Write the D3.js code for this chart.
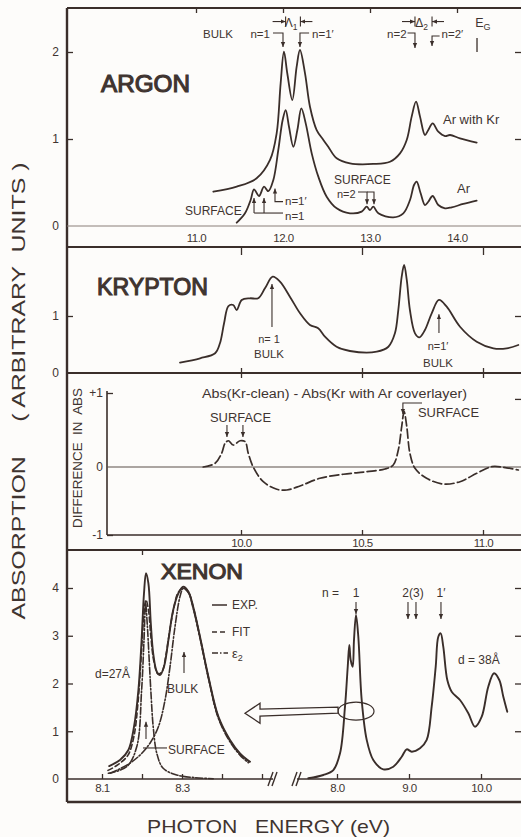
<!DOCTYPE html>
<html><head><meta charset="utf-8">
<script src="https://cdn.jsdelivr.net/npm/d3@7"></script>
<style>
html,body{margin:0;padding:0;background:#fdfcfa;}
svg{display:block;}
text{font-family:"Liberation Sans",Arial,Helvetica,sans-serif;fill:#3f3430;}
</style></head><body>
<svg id="c" width="521" height="837"></svg>
<script>
// ---------- DATA ----------
const argonTicks = [11, 12, 13, 14];
const argonYTicks = [0, 1, 2];
const argonKrEnergy = [11.199, 11.468, 11.697, 11.851, 11.927, 11.973, 12.011, 12.05, 12.107, 12.157, 12.195, 12.253, 12.31, 12.387, 12.464, 12.52, 12.617, 12.77, 13.038, 13.23, 13.345, 13.422, 13.479, 13.529, 13.575, 13.632, 13.67, 13.72, 13.785, 13.862, 13.92, 14.034, 14.226];
const argonKrAbs = [0.394, 0.452, 0.548, 0.759, 1.065, 1.640, 2.004, 1.75, 1.448, 1.831, 2.023, 1.755, 1.371, 1.103, 0.989, 0.911, 0.778, 0.72, 0.713, 0.739, 0.835, 0.989, 1.257, 1.429, 1.257, 1.046, 1.103, 1.18, 1.084, 1.034, 1.046, 1.008, 0.958];
const argonEnergy = [11.468, 11.563, 11.628, 11.667, 11.724, 11.782, 11.831, 11.889, 11.946, 11.996, 12.031, 12.069, 12.119, 12.165, 12.211, 12.261, 12.33, 12.406, 12.502, 12.617, 12.77, 12.904, 12.962, 13.0, 13.038, 13.096, 13.268, 13.383, 13.46, 13.506, 13.536, 13.582, 13.632, 13.67, 13.72, 13.785, 13.862, 13.939, 14.072, 14.226];
const argonAbs = [0.038, 0.146, 0.299, 0.422, 0.345, 0.452, 0.40, 0.529, 0.874, 1.218, 1.333, 1.141, 0.911, 1.103, 1.352, 1.18, 0.835, 0.567, 0.337, 0.203, 0.146, 0.165, 0.222, 0.184, 0.222, 0.146, 0.1, 0.146, 0.299, 0.471, 0.509, 0.376, 0.241, 0.279, 0.345, 0.241, 0.203, 0.215, 0.253, 0.291];

const kryptonTicks = [10.0, 10.5, 11.0];
const kryptonYTicks = [0, 1];
const kryptonEnergy = [9.748, 9.831, 9.893, 9.913, 9.930, 9.948, 9.968, 9.982, 10.003, 10.037, 10.071, 10.099, 10.131, 10.161, 10.202, 10.244, 10.285, 10.319, 10.347, 10.395, 10.450, 10.561, 10.609, 10.636, 10.650, 10.664, 10.674, 10.685, 10.698, 10.719, 10.737, 10.760, 10.788, 10.818, 10.850, 10.905, 10.974, 11.043, 11.098, 11.146];
const kryptonAbs = [0.181, 0.258, 0.346, 0.521, 0.872, 1.175, 1.193, 1.105, 1.281, 1.311, 1.311, 1.486, 1.689, 1.602, 1.339, 1.047, 0.842, 0.784, 0.637, 0.461, 0.386, 0.374, 0.461, 0.696, 1.105, 1.689, 1.895, 1.632, 1.105, 0.696, 0.626, 0.754, 1.047, 1.281, 1.163, 0.812, 0.549, 0.433, 0.433, 0.491];

const diffYTicks = [-1, 0, 1];
const diffYLabels = ["-1", "0", "+1"];
const diffEnergy = [9.844, 9.893, 9.920, 9.934, 9.948, 9.968, 9.996, 10.017, 10.030, 10.051, 10.092, 10.148, 10.189, 10.244, 10.326, 10.423, 10.519, 10.595, 10.629, 10.650, 10.664, 10.674, 10.685, 10.698, 10.719, 10.767, 10.836, 10.905, 10.974, 11.036, 11.084, 11.146];
const diffValue = [0.0, 0.05, 0.185, 0.32, 0.355, 0.297, 0.355, 0.342, 0.185, -0.004, -0.216, -0.328, -0.338, -0.279, -0.166, -0.107, -0.069, -0.029, 0.027, 0.23, 0.545, 0.747, 0.545, 0.185, -0.019, -0.166, -0.25, -0.216, -0.093, 0.004, -0.004, -0.044];

const xenonYTicks = [0, 1, 2, 3, 4];
const xenonLeftTicks = [8.1, 8.2, 8.3, 8.4, 8.5];
const xenonLeftLabels = [8.1, 8.3];
const xenonRightTicks = [8.0, 9.0, 10.0];
const xeExpEnergy = [8.118, 8.145, 8.166, 8.180, 8.191, 8.199, 8.205, 8.21, 8.216, 8.222, 8.228, 8.237, 8.245, 8.255, 8.266, 8.278, 8.291, 8.303, 8.316, 8.328, 8.345, 8.366, 8.391, 8.42, 8.445, 8.47];
const xeExpAbs = [0.272, 0.398, 0.607, 1.095, 1.864, 2.911, 3.889, 4.308, 4.098, 3.26, 2.632, 2.247, 2.178, 2.352, 2.911, 3.539, 3.889, 4.027, 3.923, 3.608, 2.98, 2.142, 1.305, 0.817, 0.538, 0.362];
const xeFitEnergy = [8.115, 8.14, 8.165, 8.18, 8.19, 8.199, 8.205, 8.21, 8.216, 8.222, 8.23, 8.24, 8.25, 8.26, 8.27, 8.28, 8.29, 8.303, 8.316, 8.328, 8.345, 8.366, 8.391, 8.42, 8.445, 8.47];
const xeFitAbs = [0.18, 0.3, 0.5, 0.9, 1.6, 2.7, 3.5, 3.75, 3.55, 3.0, 2.45, 2.2, 2.25, 2.6, 3.15, 3.6, 3.9, 4.0, 3.92, 3.6, 2.97, 2.13, 1.29, 0.8, 0.52, 0.35];
const xeSurfEnergy = [8.116, 8.162, 8.187, 8.199, 8.205, 8.209, 8.213, 8.218, 8.2225, 8.228, 8.237, 8.253, 8.287, 8.33, 8.378];
const xeSurfEps = [0.12, 0.26, 0.68, 1.86, 2.91, 3.68, 3.26, 2.49, 1.79, 1.095, 0.538, 0.224, 0.084, 0.03, 0.006];
const xeBulkEnergy = [8.12, 8.162, 8.195, 8.22, 8.241, 8.2575, 8.27, 8.2825, 8.295, 8.303, 8.316, 8.328, 8.345, 8.366, 8.391, 8.42, 8.445, 8.466];
const xeBulkEps = [0.12, 0.29, 0.5, 0.75, 1.095, 1.65, 2.35, 3.19, 3.82, 3.99, 3.9, 3.57, 2.95, 2.11, 1.27, 0.78, 0.5, 0.34];
const xeThickEnergy = [7.601, 7.81, 7.949, 8.042, 8.111, 8.149, 8.171, 8.19, 8.218, 8.236, 8.264, 8.296, 8.343, 8.413, 8.504, 8.643, 8.782, 8.899, 8.968, 9.038, 9.153, 9.246, 9.315, 9.371, 9.407, 9.44, 9.476, 9.532, 9.593, 9.708, 9.824, 9.917, 10.01, 10.101, 10.181, 10.254, 10.31, 10.365];
const xeThickAbs = [0.015, 0.084, 0.188, 0.538, 1.514, 2.352, 2.806, 2.492, 2.352, 2.911, 3.435, 2.98, 1.654, 0.817, 0.398, 0.203, 0.258, 0.467, 0.622, 0.572, 0.643, 0.817, 1.514, 2.352, 2.98, 3.051, 2.771, 2.073, 1.828, 1.654, 1.376, 1.095, 1.305, 1.933, 2.214, 2.073, 1.724, 1.409];

// ---------- SETUP ----------
const ink = "#3a2e2a";
const svg = d3.select("#c");
svg.append("rect").attr("width",521).attr("height",837).attr("fill","#fdfcfa");
const defs = svg.append("defs");
defs.append("marker").attr("id","ah").attr("viewBox","0 0 6 6").attr("refX",6).attr("refY",3)
  .attr("markerWidth",5).attr("markerHeight",6).attr("markerUnits","userSpaceOnUse").attr("orient","auto")
  .append("path").attr("d","M0,0.4 L6,3 L0,5.6 Z").attr("fill",ink);

const curve = d3.curveCatmullRom.alpha(0.5);
function zip(a,b){return a.map((v,i)=>[v,b[i]]);}
function plot(xs, ys, E, V, opt={}) {
  const line = d3.line().x(d=>xs(d[0])).y(d=>ys(d[1])).curve(curve);
  svg.append("path").attr("d", line(zip(E,V))).attr("fill","none").attr("stroke",ink)
    .attr("stroke-width", opt.w||1.8).attr("stroke-dasharray", opt.dash||null)
    .attr("stroke-linejoin","round").attr("stroke-linecap","round");
}
function hline(x1,x2,y,w=2,c=ink){svg.append("line").attr("x1",x1).attr("x2",x2).attr("y1",y).attr("y2",y).attr("stroke",c).attr("stroke-width",w);}
function vline(x,y1,y2,w=2,c=ink){svg.append("line").attr("x1",x).attr("x2",x).attr("y1",y1).attr("y2",y2).attr("stroke",c).attr("stroke-width",w);}
function txt(x,y,s,o={}){
  const t=svg.append("text").attr("x",x).attr("y",y).attr("font-size",o.size||11.5)
    .attr("text-anchor",o.anchor||"start").attr("font-weight",o.weight||"normal");
  t.style("white-space","pre").text(s);
  if(o.len){t.attr("textLength",o.len).attr("lengthAdjust","spacingAndGlyphs");}
  if(o.rot){t.attr("transform",`rotate(${o.rot},${x},${y})`);}
  if(o.heavy){t.attr("stroke","#3f3430").attr("stroke-width",o.heavy);}
  return t;
}
function arrow(pts, w=1.1){
  svg.append("path").attr("d", d3.line()(pts)).attr("fill","none").attr("stroke",ink)
    .attr("stroke-width",w).attr("marker-end","url(#ah)");
}
function plain(pts, w=1.1){
  svg.append("path").attr("d", d3.line()(pts)).attr("fill","none").attr("stroke",ink).attr("stroke-width",w);
}
function styleAxis(g, size=12){
  g.select(".domain").remove();
  g.selectAll("line").attr("stroke",ink).attr("stroke-width",1.3);
  g.selectAll("text").attr("font-size",size).attr("fill","#3f3430")
    .attr("font-family","'Liberation Sans',Arial,sans-serif");
}

// ---------- SCALES ----------
const xAr = d3.scaleLinear().domain([11,14]).range([196,457]);
const yAr = d3.scaleLinear().domain([0,2]).range([226,52]);
const xKr = d3.scaleLinear().domain([10,11]).range([241,483]);
const yKr = d3.scaleLinear().domain([0,1]).range([373,316]);
const yDf = d3.scaleLinear().domain([-1,0,1]).range([535,467,393]);
const xXeL = d3.scaleLinear().domain([8.1,8.3]).range([102,182]);
const xXeR = d3.scaleLinear().domain([8,10]).range([337,481]);
const yXe = d3.scaleLinear().domain([0,4]).range([779,588]);

// ---------- FRAME ----------
const L=67, R=524;
vline(L, 8, 802, 2.4);
hline(L, R, 8, 2.2);
hline(L, R, 802, 2.4);
hline(L, R, 247, 2.2);
hline(L, R, yKr(0), 1.8);
hline(L, R, 550, 2.2);
hline(L, R, yAr(0), 1, "#8a7e78");

// ---------- ARGON ----------
let g = svg.append("g").attr("transform",`translate(0,${yAr(0)})`)
  .call(d3.axisBottom(xAr).tickValues(argonTicks).tickSize(0).tickPadding(8).tickFormat(d3.format(".1f")));
styleAxis(g, 11.5); g.selectAll("text").attr("letter-spacing","-0.5");
g = svg.append("g").attr("transform",`translate(0,8)`)
  .call(d3.axisBottom(xAr).tickValues(argonTicks).tickSize(5).tickFormat(""));
styleAxis(g);
g = svg.append("g").attr("transform",`translate(${L},0)`)
  .call(d3.axisLeft(yAr).tickValues(argonYTicks).tickSize(-6).tickPadding(8).tickFormat(d3.format("d")));
styleAxis(g); g.selectAll(".tick").filter(d=>d===0).select("line").remove();
g = svg.append("g").attr("transform",`translate(521,0)`)
  .call(d3.axisRight(yAr).tickValues([1,2]).tickSize(-6).tickFormat(""));
styleAxis(g);

plot(xAr, yAr, argonKrEnergy, argonKrAbs);
plot(xAr, yAr, argonEnergy, argonAbs);

txt(101, 92, "ARGON", {size:23, len:89, heavy:1.1});
txt(203, 38, "BULK");
txt(xAr(11.885)-3, 38, "n=1", {anchor:"end"});
arrow([[xAr(11.885),33],[xAr(12.0),33],[xAr(12.0),47]]);
arrow([[xAr(12.30),33],[xAr(12.195),33],[xAr(12.195),47]]);
txt(xAr(12.30)+3, 38, "n=1′");
// Λ1 / Δ2 brackets
function spacing(e1,e2,label,sub){
  const y=yAr(2.35), a=xAr(e1), b=xAr(e2);
  vline(a,y-5,y+5,1.1); vline(b,y-5,y+5,1.1);
  arrow([[a-13,y],[a,y]]); arrow([[b+12,y],[b,y]]);
  const t=txt((a+b)/2-2, y+5, label, {anchor:"middle", size:12});
  t.append("tspan").attr("font-size",8.5).attr("dy",3).text(sub);
}
spacing(12.03, 12.2, "Λ", "1");
spacing(13.517, 13.713, "Δ", "2");
txt(xAr(13.42), 38, "n=2", {anchor:"end"});
arrow([[xAr(13.42)+1,33],[xAr(13.517),33],[xAr(13.517),48]]);
arrow([[xAr(13.80),36],[xAr(13.713),36],[xAr(13.713),46]]);
txt(xAr(13.80)+2, 38, "n=2′");
const eg = txt(xAr(14.21), 27, "E", {size:12.5});
eg.append("tspan").attr("font-size",9).attr("dy",3).text("G");
vline(xAr(14.23), yAr(2.16), yAr(2.0), 1.3);
txt(443, 124, "Ar with Kr", {size:13});
txt(457, 193, "Ar", {size:13});
// surface labels (argon)
txt(185, 215, "SURFACE", {size:12});
arrow([[xAr(11.667),yAr(0.149)],[xAr(11.667),yAr(0.322)]]);
arrow([[xAr(11.782),yAr(0.149)],[xAr(11.782),yAr(0.322)]]);
plain([[xAr(11.667),yAr(0.149)],[xAr(12.0),yAr(0.149)]]);
txt(xAr(12.0)+2, 220, "n=1", {size:11.5});
arrow([[xAr(12.0),yAr(0.28)],[xAr(11.908),yAr(0.28)],[xAr(11.908),yAr(0.43)]]);
txt(xAr(12.0)+2, 205, "n=1′", {size:11.5});
txt(334, 184, "SURFACE", {size:12});
txt(337, 198, "n=2", {size:11});
arrow([[358,yAr(0.391)],[xAr(12.966),yAr(0.391)],[xAr(12.966),yAr(0.25)]]);
arrow([[xAr(12.966),yAr(0.391)],[xAr(13.046),yAr(0.391)],[xAr(13.046),yAr(0.25)]]);

// ---------- KRYPTON ----------
g = svg.append("g").attr("transform",`translate(0,247)`)
  .call(d3.axisBottom(xKr).tickValues(kryptonTicks).tickSize(8).tickFormat(""));
styleAxis(g);
g = svg.append("g").attr("transform",`translate(0,${yKr(0)-5})`)
  .call(d3.axisBottom(xKr).tickValues(kryptonTicks).tickSize(10).tickFormat(""));
styleAxis(g);
g = svg.append("g").attr("transform",`translate(${L},0)`)
  .call(d3.axisLeft(yKr).tickValues(kryptonYTicks).tickSize(-6).tickPadding(8).tickFormat(d3.format("d")));
styleAxis(g); g.selectAll(".tick").filter(d=>d===0).select("line").remove();
g = svg.append("g").attr("transform",`translate(521,0)`)
  .call(d3.axisRight(yKr).tickValues([1]).tickSize(-6).tickFormat(""));
styleAxis(g);
plot(xKr, yKr, kryptonEnergy, kryptonAbs);
txt(97, 295, "KRYPTON", {size:23, len:111, heavy:1.1});
arrow([[xKr(10.128),327],[xKr(10.128),yKr(1.56)]]);
txt(269, 343, "n= 1", {anchor:"middle", size:11});
txt(269, 358, "BULK", {anchor:"middle", size:11.5});
arrow([[xKr(10.818),333],[xKr(10.818),yKr(1.03)]]);
txt(438, 350, "n=1′", {anchor:"middle", size:11});
txt(438, 367, "BULK", {anchor:"middle", size:11.5});

// ---------- DIFFERENCE ----------
vline(107, yDf(1)-2, yDf(-1), 1.6);
hline(107, 521, yDf(-1), 1.6);
hline(107, 521, yDf(0), 1.1, "#5a4e49");
g = svg.append("g").attr("transform",`translate(107,0)`)
  .call(d3.axisLeft(yDf).tickValues(diffYTicks).tickSize(-6).tickPadding(4).tickFormat((d,i)=>diffYLabels[i]));
styleAxis(g); g.selectAll(".tick").filter(d=>d===0).select("line").remove();
g = svg.append("g").attr("transform",`translate(0,${yDf(-1)})`)
  .call(d3.axisTop(xKr).tickValues(kryptonTicks).tickSize(5).tickFormat(""));
styleAxis(g);
g = svg.append("g").attr("transform",`translate(0,${yDf(-1)})`)
  .call(d3.axisBottom(xKr).tickValues(kryptonTicks).tickSize(0).tickPadding(4).tickFormat(d3.format(".1f")));
styleAxis(g, 11.5); g.selectAll("text").attr("letter-spacing","-0.5");
g = svg.append("g").attr("transform",`translate(521,0)`)
  .call(d3.axisRight(yDf).tickValues([0.92]).tickSize(-6).tickFormat(""));
styleAxis(g);
plot(xKr, yDf, diffEnergy, diffValue, {dash:"9,3.5", w:1.7});
txt(82, 458, "DIFFERENCE  IN  ABS", {size:12, anchor:"middle", rot:-90, len:140});
txt(202, 398, "Abs(Kr-clean) - Abs(Kr with Ar coverlayer)", {size:12.5, len:265});
txt(210, 422, "SURFACE", {size:12.5, len:61});
arrow([[xKr(9.942),425],[xKr(9.942),437]]);
arrow([[xKr(10.008),425],[xKr(10.008),437]]);
arrow([[422,403],[xKr(10.669),403],[xKr(10.669),414]]);
txt(418, 417, "SURFACE", {size:12.5, len:61});

// ---------- XENON ----------
hline(L, 273, yXe(0), 1.6);
hline(297, 521, yXe(0), 1.6);
[273, 297].forEach(x=>{
  plain([[x-5,yXe(0)+7],[x,yXe(0)-7]],1.4);
  plain([[x-1,yXe(0)+7],[x+4,yXe(0)-7]],1.4);
});
g = svg.append("g").attr("transform",`translate(${L},0)`)
  .call(d3.axisLeft(yXe).tickValues(xenonYTicks).tickSize(-6).tickPadding(8).tickFormat(d3.format("d")));
styleAxis(g); g.selectAll(".tick").filter(d=>d===0).select("line").remove();
g = svg.append("g").attr("transform",`translate(521,0)`)
  .call(d3.axisRight(yXe).tickValues([1,2,3,4]).tickSize(-6).tickFormat(""));
styleAxis(g);
g = svg.append("g").attr("transform",`translate(0,${yXe(0)})`)
  .call(d3.axisTop(xXeL).tickValues(xenonLeftTicks).tickSize(5).tickFormat(""));
styleAxis(g);
g = svg.append("g").attr("transform",`translate(0,${yXe(0)})`)
  .call(d3.axisBottom(xXeL).tickValues(xenonLeftLabels).tickSize(0).tickPadding(5).tickFormat(d3.format(".1f")));
styleAxis(g, 11.5); g.selectAll("text").attr("letter-spacing","-0.5");
g = svg.append("g").attr("transform",`translate(0,550)`)
  .call(d3.axisBottom(xXeL).tickValues([8.2]).tickSize(5).tickFormat(""));
styleAxis(g);
g = svg.append("g").attr("transform",`translate(0,${yXe(0)})`)
  .call(d3.axisTop(xXeR).tickValues(xenonRightTicks).tickSize(5).tickFormat(""));
styleAxis(g);
g = svg.append("g").attr("transform",`translate(0,${yXe(0)})`)
  .call(d3.axisBottom(xXeR).tickValues(xenonRightTicks).tickSize(0).tickPadding(5).tickFormat(d3.format(".1f")));
styleAxis(g, 11.5); g.selectAll("text").attr("letter-spacing","-0.5");

plot(xXeL, yXe, xeBulkEnergy, xeBulkEps, {dash:"7,2,1.5,2", w:1.6});
plot(xXeL, yXe, xeSurfEnergy, xeSurfEps, {dash:"7,2,1.5,2", w:1.6});
plot(xXeL, yXe, xeFitEnergy, xeFitAbs, {dash:"5,3", w:1.6});
plot(xXeL, yXe, xeExpEnergy, xeExpAbs, {w:1.9});
plot(xXeR, yXe, xeThickEnergy, xeThickAbs, {w:1.9});

txt(161, 579, "XENON", {size:22, len:82, heavy:1.1});
// legend
plain([[212,605],[227,605]],1.5);
txt(232, 609, "EXP.", {size:12});
svg.append("line").attr("x1",212).attr("x2",228).attr("y1",632).attr("y2",632).attr("stroke",ink).attr("stroke-width",1.5).attr("stroke-dasharray","5,3");
txt(232, 636, "FIT", {size:12});
svg.append("line").attr("x1",212).attr("x2",228).attr("y1",653).attr("y2",653).attr("stroke",ink).attr("stroke-width",1.5).attr("stroke-dasharray","6,2,1.5,2");
const e2 = txt(232, 658, "ε", {size:13});
e2.append("tspan").attr("font-size",9).attr("dy",3).text("2");
txt(95, 678, "d=27Å", {size:12});
txt(167, 693, "BULK", {size:12});
arrow([[xXeL(8.305),yXe(2.22)],[xXeL(8.305),yXe(2.66)]]);
arrow([[xXeL(8.21),yXe(0.84)],[xXeL(8.21),yXe(1.2)]]);
plain([[xXeL(8.2025),yXe(0.65)],[xXeL(8.2625),yXe(0.65)]]);
txt(168, 754, "SURFACE", {size:12});
// right part labels
txt(322, 597, "n =", {size:12});
txt(xXeR(8.264), 597, "1", {size:12, anchor:"middle"});
arrow([[xXeR(8.264),602],[xXeR(8.264),614]]);
txt(413, 597, "2(3)", {size:12, anchor:"middle"});
arrow([[xXeR(8.986),602],[xXeR(8.986),619]]);
arrow([[xXeR(9.097),602],[xXeR(9.097),619]]);
txt(xXeR(9.444), 597, "1′", {size:12, anchor:"middle"});
arrow([[xXeR(9.444),602],[xXeR(9.444),619]]);
txt(458, 664, "d = 38Å", {size:12});
// ellipse + hollow arrow
const ecx = xXeR(8.264), ecy = yXe(1.42);
svg.append("ellipse").attr("cx",ecx).attr("cy",ecy).attr("rx",18).attr("ry",9)
  .attr("fill","none").attr("stroke",ink).attr("stroke-width",1.2);
const tipX = xXeL(8.4575), tipY = ecy+2;
svg.append("path").attr("d", d3.line()([[tipX,tipY],[tipX+15,tipY-10],[tipX+15,tipY-4],[ecx-18,ecy-4],[ecx-18,ecy+2],[tipX+15,tipY+3],[tipX+15,tipY+10]])+"Z")
  .attr("fill","#fdfcfa").attr("stroke",ink).attr("stroke-width",1.3).attr("stroke-linejoin","miter");

// ---------- AXIS TITLES ----------
txt(25, 391, "ABSORPTION     ( ARBITRARY  UNITS )", {size:19, anchor:"middle", rot:-90, len:457});
txt(147, 833, "PHOTON   ENERGY (eV)", {size:19, len:243});
</script>
</body></html>
